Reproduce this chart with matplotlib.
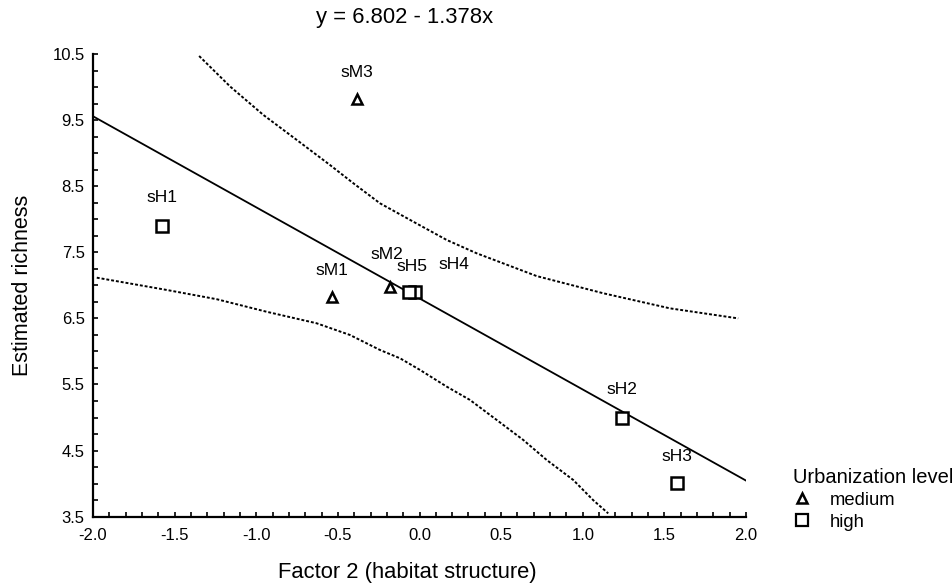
import matplotlib.pyplot as plt
from matplotlib.lines import Line2D

plt.rcParams["font.family"] = ["Liberation Sans", "DejaVu Sans"]

# site scores
site_names = ["sM1", "sM2", "sM3", "sH1", "sH2", "sH3", "sH4", "sH5"]
site_level = ["medium", "medium", "medium", "high", "high", "high", "high", "high"]
factor2 = [-0.534, -0.181, -0.385, -1.579, 1.242, 1.579, -0.028, -0.062]
richness = [6.82, 6.98, 9.815, 7.898, 4.989, 4.005, 6.904, 6.904]
# label offsets in points (dx, dy)
label_offsets = [(0, 14), (-2, 18), (0, 14), (0, 15), (0, 15), (0, 14), (28, 14), (2, 13)]

intercept = 6.802
slope = -1.378

# confidence band curves
upper_x = [-1.35, -1.159, -0.956, -0.752, -0.548, -0.405, -0.242, -0.038, 0.167,
           0.350, 0.718, 1.126, 1.534, 1.952]
upper_y = [10.47, 10.006, 9.577, 9.20, 8.82, 8.544, 8.241, 7.963, 7.686,
           7.485, 7.14, 6.88, 6.652, 6.50]
lower_x = [-1.977, -1.548, -1.242, -0.936, -0.630, -0.426, -0.242, -0.119, 0.003,
           0.167, 0.309, 0.473, 0.636, 0.779, 0.942, 1.064, 1.156]
lower_y = [7.116, 6.93, 6.79, 6.60, 6.426, 6.249, 6.022, 5.896, 5.72,
           5.467, 5.266, 4.963, 4.66, 4.358, 4.055, 3.75, 3.55]

x_ticks = [-2.0, -1.5, -1.0, -0.5, 0.0, 0.5, 1.0, 1.5, 2.0]
y_ticks = [3.5, 4.5, 5.5, 6.5, 7.5, 8.5, 9.5, 10.5]

MARKERS = {"medium": "^", "high": "s"}
SIZES = {"medium": 6.5, "high": 8}

fig = plt.figure(figsize=(9.53, 5.87), dpi=100)
ax = fig.add_axes([0.0976, 0.1198, 0.6852, 0.7882])

ax.plot([-2, 2], [intercept + slope * -2, intercept + slope * 2],
        color="black", lw=1.3)
ax.plot(upper_x, upper_y, color="black", lw=1.4, ls=(0, (1.5, 1.0)))
ax.plot(lower_x, lower_y, color="black", lw=1.4, ls=(0, (1.5, 1.0)))

for name, lvl, x, y, off in zip(site_names, site_level, factor2, richness, label_offsets):
    ax.plot(x, y, marker=MARKERS[lvl], ms=SIZES[lvl], mfc="white", mec="black",
            mew=1.8, ls="none", zorder=3)
    ax.annotate(name, (x, y), xytext=off, textcoords="offset points",
                ha="center", va="bottom", fontsize=12.5)

ax.set_xlim(-2, 2)
ax.set_ylim(3.5, 10.5)
ax.set_xticks(x_ticks)
ax.set_xticklabels([f"{v:.1f}" for v in x_ticks])
ax.set_yticks(y_ticks)
ax.set_yticklabels([f"{v:.1f}" for v in y_ticks])
ax.set_xticks([i / 10 for i in range(-20, 21)], minor=True)
ax.set_yticks([3.5 + i * 0.25 for i in range(29)], minor=True)
ax.tick_params(which="both", direction="in", length=3.5, width=1.2,
               labelsize=12, color="black")
ax.tick_params(axis="x", pad=8)
ax.tick_params(axis="y", pad=6)

for side in ["top", "right"]:
    ax.spines[side].set_visible(False)
for side in ["left", "bottom"]:
    ax.spines[side].set_linewidth(1.6)

ax.set_xlabel("Factor 2 (habitat structure)", fontsize=15.8)
ax.xaxis.set_label_coords(0.482, -0.097)
ax.set_ylabel("Estimated richness", fontsize=15.5, labelpad=14)
fig.text(0.425, 0.97, "y = 6.802 - 1.378x", ha="center", va="center", fontsize=15.8)

handles = [
    Line2D([], [], marker="^", ms=6.5, mfc="white", mec="black", mew=1.8, ls="none"),
    Line2D([], [], marker="s", ms=8, mfc="white", mec="black", mew=1.6, ls="none"),
]
leg = fig.legend(handles, ["medium", "high"], title="Urbanization level",
                 loc="upper left", bbox_to_anchor=(0.822, 0.218),
                 frameon=False, fontsize=13.3, title_fontsize=14.5,
                 handletextpad=1.0, labelspacing=0.25, borderpad=0,
                 alignment="left", handlelength=1.0)

fig.savefig("out.png", dpi=100)
